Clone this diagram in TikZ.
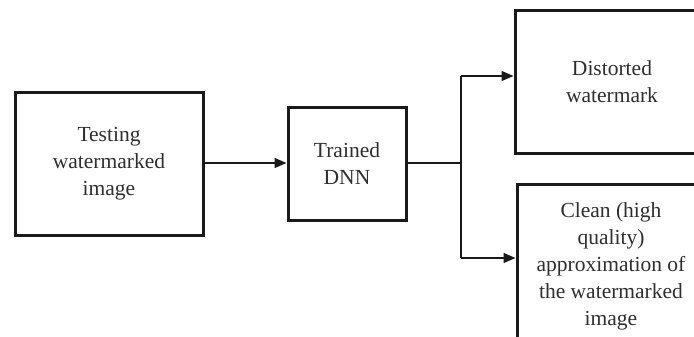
\documentclass[tikz,border=0pt]{standalone}
\usepackage{fontspec}
\setmainfont{Liberation Serif}
\usetikzlibrary{arrows.meta}
\definecolor{ink}{HTML}{1A1A1A}
\definecolor{txt}{HTML}{2E2E2E}
\begin{document}
\begin{tikzpicture}[x=1pt,y=-1pt,
  block/.style={draw=ink, line width=3pt, rectangle, align=center,
    text=txt, font=\fontsize{21.5}{27}\selectfont, inner sep=0pt},
  link/.style={draw=ink, line width=1.4pt},
  flow/.style={link, -{Triangle[length=12pt,width=10pt]}}]
  \useasboundingbox (0,0) rectangle (694,337);
  \begin{scope}
  \clip (0,0) rectangle (694,337);
  \node[block, minimum width=188pt, minimum height=142pt] (inp) at (109,164)
    {Testing\\watermarked\\image};
  \node[block, minimum width=118pt, minimum height=112pt] (dnn) at (347,164)
    {Trained\\DNN};
  \node[block, minimum width=194pt, minimum height=142pt] (dist) at (612,82)
    {Distorted\\watermark};
  \node[block, minimum width=188pt, minimum height=164pt] (clean) at (611,266)
    {Clean (high\\quality)\\approximation of\\the watermarked\\image};
  \coordinate (split) at (461,163);
  \coordinate (up) at (461,76);
  \coordinate (down) at (461,258);
  \draw[flow] (inp.east |- 0,163) -- (dnn.west |- 0,163);
  \draw[link] (dnn.east |- split) -- (split);
  \draw[link] (up) -- (down);
  \draw[flow] (up) -- (up -| dist.west);
  \draw[flow] (down) -- (down -| clean.west);
  \end{scope}
\end{tikzpicture}
\end{document}
